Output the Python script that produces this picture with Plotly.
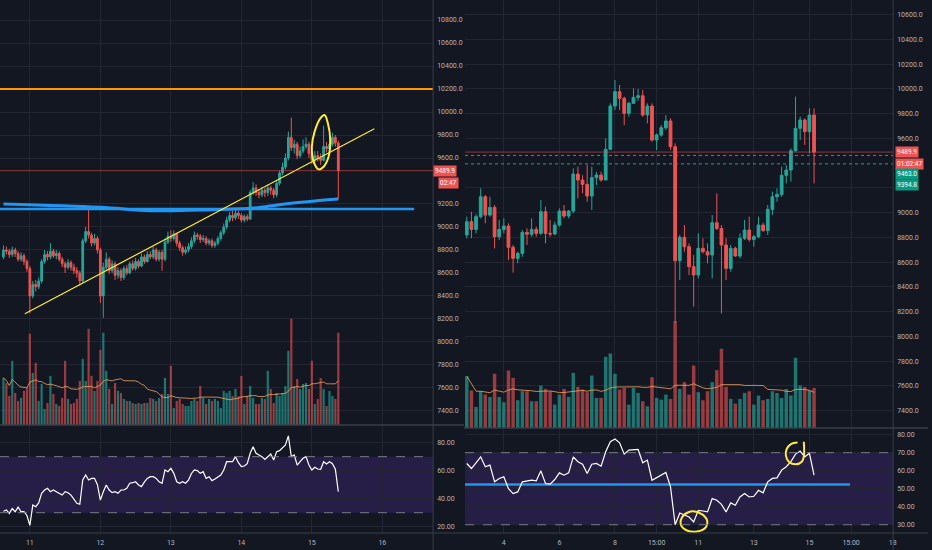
import pandas as pd
import plotly.graph_objects as go

# ---------------- left chart: BTC 1h ----------------
left_start = "2020-05-10 15:00"
left_open0 = 8740
left_close = [8800, 8790, 8760, 8800, 8770, 8720, 8750, 8700, 8640, 8400,
              8500, 8480, 8530, 8700, 8760, 8740, 8790, 8750, 8770, 8720,
              8680, 8650, 8690, 8650, 8620, 8600, 8530, 8880, 8960, 8930,
              8860, 8900, 8800, 8400, 8650, 8720, 8620, 8680, 8580, 8620,
              8560, 8640, 8600, 8680, 8640, 8700, 8660, 8740, 8700, 8760,
              8740, 8800, 8720, 8780, 8720, 8870, 8920, 8900, 8940, 8860,
              8820, 8780, 8800, 8830, 8880, 8930, 8920, 8890, 8900, 8860,
              8880, 8840, 8860, 8900, 8950, 9000, 9060, 9100, 9080, 9120,
              9100, 9060, 9090, 9070, 9300, 9340, 9300, 9280, 9320, 9300,
              9340, 9320, 9280, 9380, 9470, 9520, 9600, 9780, 9690, 9720,
              9620, 9660, 9700, 9720, 9640, 9580, 9620, 9600, 9580, 9700,
              9680, 9720, 9780, 9730, 9489.9]
left_high = [8840, 8830, 8810, 8830, 8820, 8790, 8780, 8770, 8720, 8660,
             8530, 8540, 8560, 8720, 8800, 8790, 8860, 8810, 8800, 8790,
             8740, 8700, 8720, 8710, 8680, 8650, 8620, 8900, 9000, 9165,
             8950, 8940, 8920, 8820, 8690, 8780, 8740, 8710, 8700, 8650,
             8640, 8660, 8670, 8700, 8710, 8730, 8720, 8770, 8760, 8790,
             8790, 8830, 8820, 8800, 8800, 8900, 8960, 8970, 8970, 8950,
             8880, 8840, 8830, 8860, 8910, 8960, 8950, 8940, 8930, 8920,
             8900, 8900, 8880, 8920, 8970, 9030, 9090, 9130, 9140, 9150,
             9140, 9120, 9110, 9110, 9320, 9390, 9370, 9330, 9350, 9340,
             9370, 9360, 9340, 9400, 9490, 9560, 9640, 9830, 9950, 9760,
             9740, 9700, 9760, 9780, 9740, 9660, 9660, 9660, 9640, 9880,
             9740, 9800, 9820, 9800, 9750]
left_low = [8720, 8760, 8730, 8740, 8740, 8700, 8700, 8670, 8610, 8250,
            8380, 8440, 8460, 8510, 8680, 8710, 8720, 8730, 8720, 8700,
            8650, 8600, 8630, 8620, 8590, 8560, 8490, 8510, 8860, 8900,
            8830, 8840, 8770, 8340, 8210, 8620, 8590, 8600, 8540, 8550,
            8530, 8540, 8580, 8590, 8620, 8620, 8640, 8650, 8680, 8690,
            8720, 8720, 8700, 8700, 8620, 8700, 8850, 8870, 8880, 8830,
            8790, 8750, 8760, 8780, 8810, 8860, 8890, 8860, 8870, 8840,
            8840, 8820, 8820, 8840, 8880, 8930, 8980, 9040, 9050, 9060,
            9070, 9040, 9040, 9050, 9060, 9280, 9270, 9250, 9260, 9260,
            9270, 9280, 9250, 9260, 9360, 9450, 9500, 9580, 9660, 9640,
            9590, 9600, 9640, 9680, 9600, 9550, 9560, 9570, 9540, 9570,
            9650, 9660, 9700, 9700, 9243]
left_vol = [47, 42, 29, 64, 32, 24, 27, 34, 37, 91,
            52, 62, 24, 41, 16, 22, 49, 31, 21, 19,
            27, 64, 26, 21, 22, 26, 44, 66, 44, 96,
            49, 34, 44, 75, 92, 54, 36, 21, 42, 34,
            32, 26, 24, 24, 22, 21, 22, 21, 22, 22,
            27, 26, 24, 27, 31, 47, 31, 59, 17, 24,
            26, 21, 19, 19, 24, 26, 24, 39, 27, 21,
            26, 24, 26, 24, 17, 34, 32, 34, 29, 36,
            29, 49, 21, 29, 39, 27, 21, 21, 27, 26,
            54, 36, 22, 32, 29, 32, 39, 74, 106, 39,
            46, 36, 41, 42, 36, 64, 21, 26, 47, 36,
            19, 34, 29, 26, 92]
left_rsi = [31, 32, 29.5, 33, 30.7, 34, 30.7, 30.7, 28, 21,
            35.5, 34.3, 37, 43.8, 46.2, 47.4, 45, 46.2, 45, 43.8,
            42.6, 45, 44.3, 42.6, 40, 36.7, 36, 53.3, 56.9, 53.3,
            54.5, 54.5, 50, 39, 45, 49.8, 46.2, 44.3, 45, 43.8,
            46.2, 46.2, 47.4, 51, 51.4, 52.1, 49.8, 48.6, 52, 54.5,
            55.7, 55.7, 54.5, 52, 51, 60.5, 59.3, 61.7, 58.1, 52.1,
            51, 52.1, 51, 53.3, 58, 60.5, 60, 58.1, 59.3, 54.5,
            55.7, 52.9, 54, 55.7, 56.9, 60.5, 66.4, 66.4, 66.4, 70,
            65.7, 62.9, 63.3, 65, 72.4, 77.1, 72.4, 71.2, 70, 68,
            70, 71.9, 67.6, 73.6, 74.3, 76, 78.3, 84.8, 70, 71.2,
            64, 66.4, 68.8, 70, 64, 60.5, 62.4, 61.2, 61, 66.4,
            64.8, 66.4, 65, 61, 45]
# slow moving average (blue curve), read at a few candles
left_ma_idx = [0, 33, 50, 67, 84, 89, 98, 106, 114]
left_ma_val = [9200, 9171, 9142, 9148, 9163, 9177, 9206, 9226, 9243]
# drawings
left_level = 10200
left_support = 9156
left_support_t = ["2020-05-10 13:50", "2020-05-16 10:50"]
left_trend_t = ["2020-05-10 22:18", "2020-05-15 21:17"]
left_trend_p = [8246, 9855]
left_loop_t = ["2020-05-15 04:20", "2020-05-15 05:27", "2020-05-15 06:16", "2020-05-15 05:41",
               "2020-05-15 04:00", "2020-05-15 02:18", "2020-05-15 00:36", "2020-05-15 00:00",
               "2020-05-15 00:56", "2020-05-15 02:53", "2020-05-15 04:20"]
left_loop_p = [9974, 9902, 9757, 9611, 9524, 9501, 9568, 9698, 9829, 9945, 9974]

# ---------------- right chart: BTC 4h ----------------
right_start = "2020-05-02 16:00"
right_open0 = 8820
right_close = [8927, 8865, 8968, 9129, 8981, 9043, 8806, 8865, 8892, 8720,
               8631, 8671, 8841, 8825, 8865, 8833, 9008, 8833, 8828, 8900,
               9013, 8973, 9013, 9312, 9264, 9229, 9135, 9283, 9304, 9264,
               9512, 9862, 9978, 9924, 9803, 9884, 9932, 9945, 9789, 9862,
               9587, 9628, 9687, 9741, 9533, 8612, 8801, 8725, 8564, 8496,
               8712, 8685, 8658, 8919, 8873, 8739, 8550, 8712, 8650, 8793,
               8860, 8784, 8806, 8900, 8855, 9027, 9129, 9148, 9302, 9345,
               9501, 9682, 9749, 9655, 9789, 9489.9]
right_high = [8968, 9008, 8989, 9197, 9143, 9129, 9062, 8941, 8954, 8914,
              8739, 8685, 8860, 8873, 8954, 8887, 9102, 9049, 8941, 8927,
              9035, 9062, 9022, 9358, 9372, 9304, 9385, 9372, 9331, 9331,
              9601, 9884, 10072, 10032, 9938, 9897, 10005, 10000, 9991, 9884,
              9884, 9641, 9709, 9789, 9762, 9560, 8820, 8900, 8752, 8658,
              8833, 8793, 8752, 8981, 9156, 8900, 8793, 8739, 8725, 8833,
              8941, 8968, 8820, 8968, 8919, 9062, 9170, 9197, 9372, 9385,
              9520, 9938, 9776, 9762, 9843, 9843]
right_low = [8793, 8793, 8833, 8954, 8914, 8968, 8712, 8779, 8833, 8617,
             8515, 8591, 8644, 8739, 8806, 8806, 8820, 8752, 8806, 8820,
             8887, 8954, 8954, 8995, 9116, 9156, 9089, 9022, 9224, 9251,
             9264, 9506, 9830, 9830, 9708, 9776, 9884, 9905, 9776, 9722,
             9574, 9506, 9614, 9668, 9506, 8110, 8456, 8685, 8496, 8240,
             8469, 8671, 8591, 8469, 8860, 8186, 8456, 8523, 8644, 8631,
             8779, 8766, 8725, 8793, 8846, 8820, 8981, 9089, 9129, 9237,
             9251, 9493, 9587, 9547, 9480, 9237]
right_vol = [51.7, 37.3, 21, 36.7, 33.3, 31, 54, 31, 25.7, 57.3,
             50, 27.7, 36.7, 36.7, 26.7, 26.7, 42.3, 39, 36.7, 23.3,
             33.3, 39, 31, 55, 41, 38.3, 35.7, 52.3, 30, 30,
             71, 74.3, 54, 38.3, 40, 23.3, 40, 35, 26.7, 21.7,
             50.7, 30, 28.3, 33.3, 29, 106.7, 39, 45.7, 33.3, 62.3,
             35.7, 27.7, 36.7, 45.7, 57.7, 79, 41, 29, 24.3, 29,
             35, 36.7, 23.3, 32.3, 27.7, 29, 36.7, 35, 30, 39,
             32.3, 70, 42.3, 41, 37.7, 40]
right_rsi = [64, 61.2, 64.4, 67.7, 62.2, 63.1, 53.8, 55.7, 56.6, 50,
             47.3, 48.2, 53.8, 54.2, 54.7, 54.3, 59.9, 52.9, 52.5, 55.1,
             58.8, 57.5, 58.8, 67.7, 65, 63.6, 58.4, 63.6, 64, 62.5,
             70.5, 76.1, 77.6, 75.5, 69.2, 71.4, 71.8, 71.8, 64.4, 65.9,
             54.7, 56.2, 57.5, 59, 51, 30, 36.5, 35.2, 34.3, 31.5,
             38, 37.6, 37.1, 44.5, 43.6, 41.3, 37.1, 42.1, 40.8, 45.4,
             47.3, 45.4, 45.8, 49.1, 47.7, 53.8, 55.7, 56, 60.3, 62.2,
             65, 69.2, 70.9, 67.7, 69.6, 57.5]
right_rsi_level = 52.3
right_rsi_level_t = ["2020-05-02 12:00", "2020-05-16 11:00"]
right_bid = 9463.0
right_ask = 9394.8
circle1_t = ["2020-05-11 03:12", "2020-05-11 07:29", "2020-05-11 06:37", "2020-05-10 22:52",
             "2020-05-10 14:17", "2020-05-10 09:07", "2020-05-10 09:59", "2020-05-10 16:00",
             "2020-05-10 22:52", "2020-05-11 04:02"]
circle1_v = [35.9, 32.6, 28.7, 26.2, 26.8, 29.8, 34.2, 37.1, 37.1, 35.4]
circle2_t = ["2020-05-14 13:45", "2020-05-14 08:00", "2020-05-14 04:18", "2020-05-14 03:42",
             "2020-05-14 06:37", "2020-05-14 12:19", "2020-05-14 17:28", "2020-05-14 19:10",
             "2020-05-14 19:10"]
circle2_v = [75.6, 74.8, 71.9, 68.2, 64.7, 63.6, 65, 67.8, 76.1]

last_price = 9489.9

# price tick labels (the ones hidden behind the price tags are left out)
left_price_ticks = [7400, 7600, 7800, 8000, 8200, 8400, 8600, 8800, 9000, 9200,
                    9600, 9800, 10000, 10200, 10400, 10600, 10800]
right_price_ticks = [7400, 7600, 7800, 8000, 8200, 8400, 8600, 8800, 9000, 9200,
                     9600, 9800, 10000, 10200, 10400, 10600]
left_ticks = ["2020-05-11", "2020-05-12", "2020-05-13", "2020-05-14", "2020-05-15", "2020-05-16"]
left_ticktext = ["11", "12", "13", "14", "15", "16"]
right_ticks = ["2020-05-04", "2020-05-06", "2020-05-08", "2020-05-09 12:00", "2020-05-11",
               "2020-05-13", "2020-05-15", "2020-05-16 12:00", "2020-05-18"]
right_ticktext = ["4", "6", "8", "15:00", "11", "13", "15", "15:00", "18"]

BG = "#131722"
GRID = "#232632"
TXT = "#b2b5be"
UP = "#26a69a"
DOWN = "#ef5350"
UP_VOL = "rgba(38,166,154,0.65)"
DOWN_VOL = "rgba(239,83,80,0.62)"
YELLOW = "#ffeb3b"
BLUE = "#2196f3"

left_t = pd.date_range(left_start, periods=len(left_close), freq="h")
right_t = pd.date_range(right_start, periods=len(right_close), freq="4h")
left_open = [left_open0] + left_close[:-1]
right_open = [right_open0] + right_close[:-1]


def vol_colors(opens, closes):
    return [UP_VOL if c >= o else DOWN_VOL for o, c in zip(opens, closes)]


fig = go.Figure()

# volume (drawn first so it sits behind candles)
fig.add_trace(go.Bar(x=left_t, y=left_vol, marker_color=vol_colors(left_open, left_close),
                     marker_line_width=0, xaxis="x", yaxis="y2"))
fig.add_trace(go.Scatter(x=left_t, y=pd.Series(left_vol).rolling(20, min_periods=1).mean(),
                         mode="lines", line=dict(color="#f7a35c", width=0.8), xaxis="x", yaxis="y2"))
fig.add_trace(go.Bar(x=right_t, y=right_vol, marker_color=vol_colors(right_open, right_close),
                     marker_line_width=0, xaxis="x3", yaxis="y5"))
fig.add_trace(go.Scatter(x=right_t, y=pd.Series(right_vol).rolling(20, min_periods=1).mean(),
                         mode="lines", line=dict(color="#f7a35c", width=0.8), xaxis="x3", yaxis="y5"))

# left price drawings
fig.add_trace(go.Scatter(x=[left_t[i] for i in left_ma_idx], y=left_ma_val, mode="lines",
                         line=dict(color=BLUE, width=3, shape="spline"), xaxis="x", yaxis="y"))
fig.add_trace(go.Scatter(x=left_support_t, y=[left_support, left_support], mode="lines",
                         line=dict(color=BLUE, width=2.5), xaxis="x", yaxis="y"))

# candles
fig.add_trace(go.Candlestick(x=left_t, open=left_open, high=left_high, low=left_low, close=left_close,
                             increasing=dict(line=dict(color=UP, width=1), fillcolor=UP),
                             decreasing=dict(line=dict(color=DOWN, width=1), fillcolor=DOWN),
                             whiskerwidth=0, xaxis="x", yaxis="y"))
fig.add_trace(go.Candlestick(x=right_t, open=right_open, high=right_high, low=right_low, close=right_close,
                             increasing=dict(line=dict(color=UP, width=1), fillcolor=UP),
                             decreasing=dict(line=dict(color=DOWN, width=1), fillcolor=DOWN),
                             whiskerwidth=0, xaxis="x3", yaxis="y4"))

fig.add_trace(go.Scatter(x=left_trend_t, y=left_trend_p, mode="lines",
                         line=dict(color=YELLOW, width=1.2), xaxis="x", yaxis="y"))
fig.add_trace(go.Scatter(x=left_loop_t, y=left_loop_p, mode="lines",
                         line=dict(color=YELLOW, width=2, shape="spline"), xaxis="x", yaxis="y"))

# RSI lines
fig.add_trace(go.Scatter(x=left_t, y=left_rsi, mode="lines", line=dict(color="#ffffff", width=1.2),
                         xaxis="x2", yaxis="y3"))
fig.add_trace(go.Scatter(x=right_rsi_level_t, y=[right_rsi_level, right_rsi_level], mode="lines",
                         line=dict(color=BLUE, width=2.5), xaxis="x4", yaxis="y6"))
fig.add_trace(go.Scatter(x=right_t, y=right_rsi, mode="lines", line=dict(color="#ffffff", width=1.2),
                         xaxis="x4", yaxis="y6"))
fig.add_trace(go.Scatter(x=circle1_t, y=circle1_v, mode="lines",
                         line=dict(color=YELLOW, width=2, shape="spline"), xaxis="x4", yaxis="y6"))
fig.add_trace(go.Scatter(x=circle2_t, y=circle2_v, mode="lines",
                         line=dict(color=YELLOW, width=2, shape="spline"), xaxis="x4", yaxis="y6"))

W, H = 932, 550
left_dom = [0, 435 / W]
right_dom = [467 / W, 897 / W]
font = dict(family="Roboto", size=7, color=TXT)


def xax(dom, anchor, ticks, text, rng, labels):
    return dict(domain=dom, anchor=anchor, type="date", range=rng, tickvals=ticks, ticktext=text,
                showticklabels=labels, showgrid=True, gridcolor=GRID, gridwidth=1, zeroline=False,
                showline=False, ticks="", tickfont=font, ticklabelstandoff=4,
                rangeslider=dict(visible=False))


def yax(dom, anchor, rng, **kw):
    d = dict(domain=dom, anchor=anchor, side="right", range=rng, showgrid=True, gridcolor=GRID,
             zeroline=False, ticks="", tickfont=font, ticklabelstandoff=3)
    d.update(kw)
    return d


fig.update_layout(
    width=W, height=H, margin=dict(l=0, r=0, t=0, b=0),
    paper_bgcolor=BG, plot_bgcolor=BG, showlegend=False, hovermode=False,
    bargap=0.25, boxgap=0.15,
    xaxis=xax(left_dom, "y", left_ticks, left_ticktext, ["2020-05-10 13:50", "2020-05-16 17:17"], False),
    xaxis2=xax(left_dom, "y3", left_ticks, left_ticktext, ["2020-05-10 13:50", "2020-05-16 17:17"], True),
    xaxis3=xax(right_dom, "y4", right_ticks, right_ticktext, ["2020-05-02 14:27", "2020-05-18 00:20"], False),
    xaxis4=xax(right_dom, "y6", right_ticks, right_ticktext, ["2020-05-02 14:27", "2020-05-18 00:20"], True),
    yaxis=yax([1 - 425 / H, 1], "x", [7278, 10974], tickvals=left_price_ticks, tickformat=".1f"),
    yaxis2=dict(overlaying="y", anchor="x", range=[0, 4 * max(left_vol)], visible=False),
    yaxis3=yax([1 - 533 / H, 1 - 425 / H], "x2", [15.5, 92.6], tickvals=[20, 40, 60, 80], tickformat=".2f"),
    yaxis4=yax([1 - 428 / H, 1], "x3", [7260, 10719], tickvals=right_price_ticks, tickformat=".1f"),
    yaxis5=dict(overlaying="y4", anchor="x3", range=[0, 4 * max(right_vol)], visible=False),
    yaxis6=yax([1 - 533 / H, 1 - 428 / H], "x4", [25.4, 83.7], tickvals=[30, 40, 50, 60, 70, 80],
               tickformat=".2f"),
)

shapes = []
# RSI bands and 30/70 dashed lines
for xr, yr in [("x2 domain", "y3"), ("x4 domain", "y6")]:
    shapes.append(dict(type="rect", xref=xr, yref=yr, x0=0, x1=1, y0=30, y1=70,
                       fillcolor="rgba(110,60,200,0.22)", line_width=0, layer="below"))
    for lvl in (30, 70):
        shapes.append(dict(type="line", xref=xr, yref=yr, x0=0, x1=0.995, y0=lvl, y1=lvl,
                           line=dict(color="#787b86", width=1, dash="dash")))
# price levels
shapes.append(dict(type="line", xref="x domain", yref="y", x0=0, x1=1, y0=left_level, y1=left_level,
                   line=dict(color="#ff9800", width=2)))
shapes.append(dict(type="line", xref="x domain", yref="y", x0=0, x1=1, y0=last_price, y1=last_price,
                   line=dict(color="rgba(239,83,80,0.55)", width=1)))
shapes.append(dict(type="line", xref="x3 domain", yref="y4", x0=0, x1=1, y0=last_price, y1=last_price,
                   line=dict(color="rgba(239,83,80,0.55)", width=1)))
for p in (right_bid, right_ask):
    shapes.append(dict(type="line", xref="x3 domain", yref="y4", x0=0, x1=1, y0=p, y1=p,
                       line=dict(color="#2a9d9a", width=1, dash="dot")))
# pane separators and axis borders
sep = "#3a3e49"
shapes.append(dict(type="line", xref="paper", yref="paper", x0=0, x1=466 / W, y0=1 - 425 / H,
                   y1=1 - 425 / H, line=dict(color=sep, width=1.5)))
shapes.append(dict(type="line", xref="paper", yref="paper", x0=466 / W, x1=1, y0=1 - 428 / H,
                   y1=1 - 428 / H, line=dict(color=sep, width=1.5)))
shapes.append(dict(type="line", xref="paper", yref="paper", x0=0, x1=1, y0=1 - 533 / H,
                   y1=1 - 533 / H, line=dict(color=sep, width=1)))
for xp in (435, 897):
    shapes.append(dict(type="line", xref="paper", yref="paper", x0=xp / W, x1=xp / W, y0=0, y1=1,
                       line=dict(color=sep, width=1)))
fig.update_layout(shapes=shapes)

# axis price tags
tag_font = dict(family="Roboto", size=6.5, color="#ffffff")
tags = [
    (435, "y", last_price, "%.1f" % last_price, DOWN, 0),
    (440, "y", last_price, "02:47", DOWN, -12),
    (899, "y4", last_price, "%.1f" % last_price, DOWN, 0),
    (899, "y4", last_price, "01:02:47", DOWN, -12),
    (899, "y4", right_bid, "%.1f" % right_bid, "#089981", -19),
    (899, "y4", right_ask, "%.1f" % right_ask, "#089981", -21),
]
for xp, yref, p, text, col, shift in tags:
    fig.add_annotation(xref="paper", x=xp / W, xanchor="left", yref=yref, y=p, yshift=shift,
                       text=text, showarrow=False, bgcolor=col, font=tag_font, borderpad=1)

# the page is photographed at exactly the figure size, so drop the default body margin
fig.write_html("out.html", config={"displayModeBar": False},
               post_script="document.body.style.margin='0px';")
